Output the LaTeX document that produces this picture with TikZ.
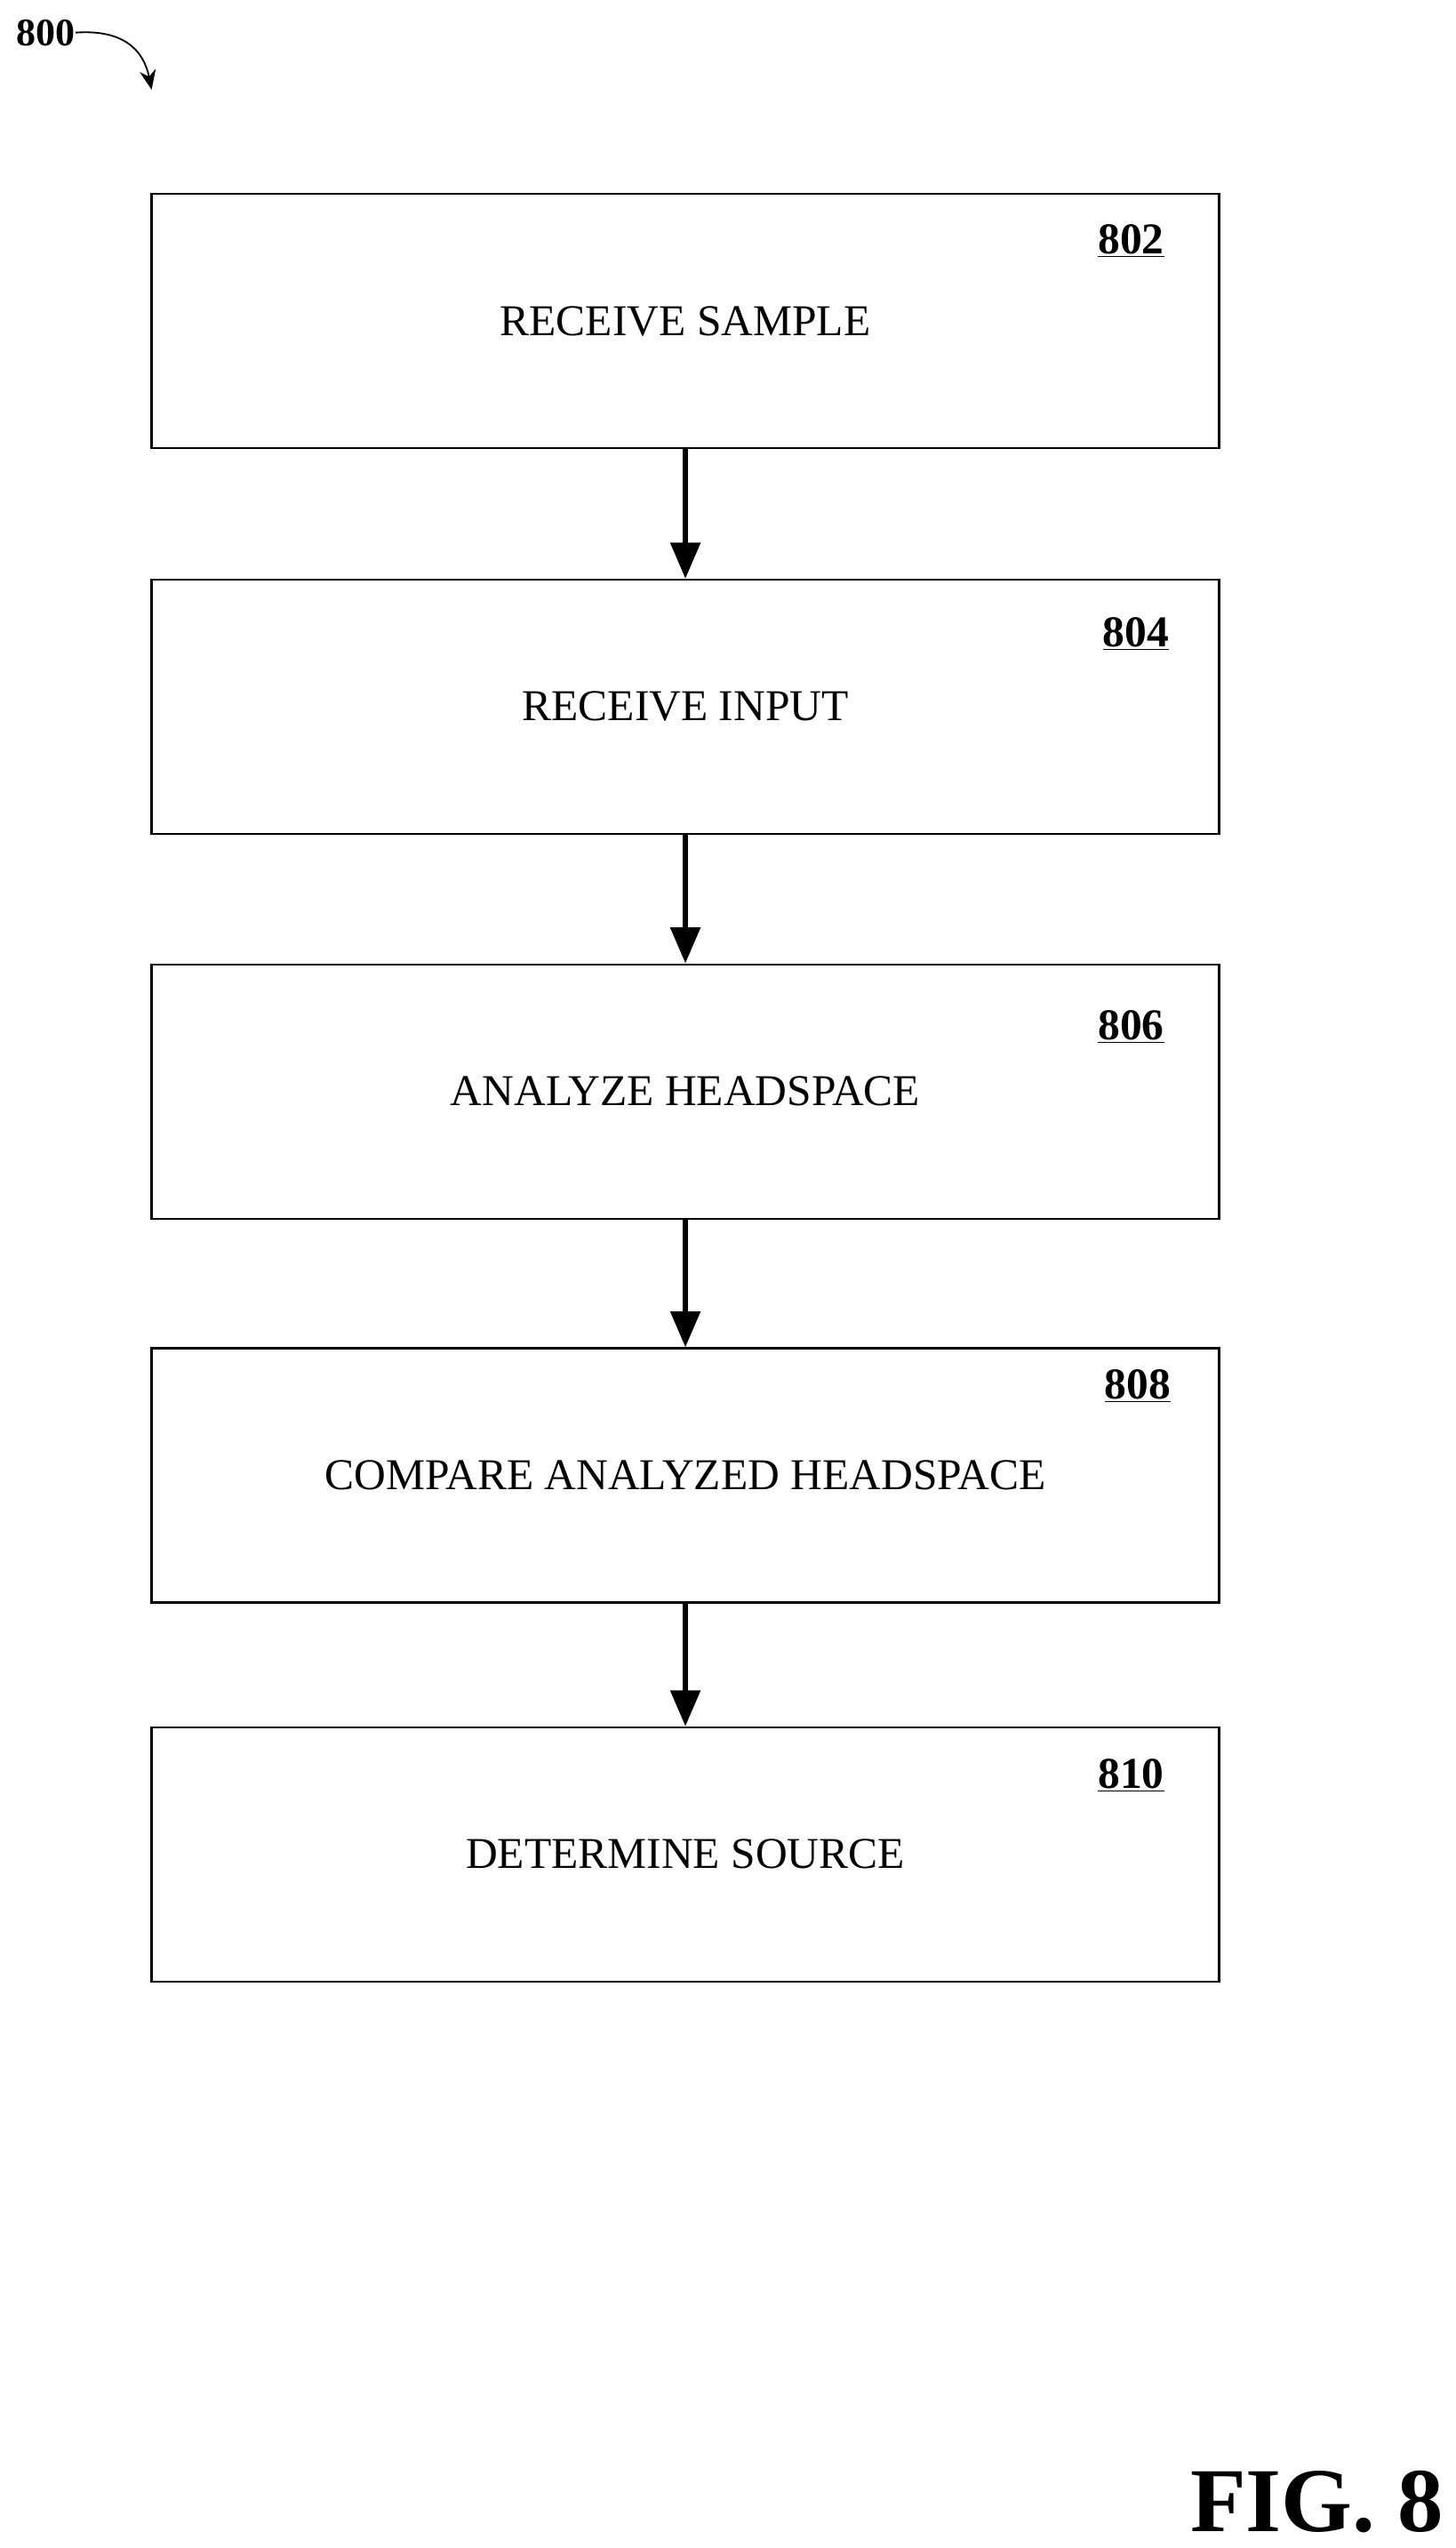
\documentclass[tikz,border=0pt]{standalone}
\usepackage{fontspec}
\setmainfont{Liberation Serif}
\usetikzlibrary{arrows.meta}
\begin{document}
\begin{tikzpicture}[x=1pt,y=-1pt,
 box/.style={draw,line width=1.2pt,minimum width=655pt,minimum height=156pt,inner sep=0pt,font=\fontsize{27}{31}\selectfont},
 lab/.style={font=\fontsize{27}{31}\selectfont\bfseries},
 arr/.style={line width=3pt,-{Triangle[length=22pt,width=18pt]}}]
\useasboundingbox (0,0) rectangle (893,1563);
\node[box] (b1) at (420.5,197) {RECEIVE SAMPLE};
\node[box] (b2) at (420.5,433.5) {RECEIVE INPUT};
\node[box] (b3) at (420.5,669.5) {ANALYZE HEADSPACE};
\node[box] (b4) at (420.5,905) {COMPARE ANALYZED HEADSPACE};
\node[box] (b5) at (420.5,1137.5) {DETERMINE SOURCE};
\node[lab] (l1) at (694,148) {\underline{802}};
\node[lab] (l2) at (697,389) {\underline{804}};
\node[lab] (l3) at (694,630) {\underline{806}};
\node[lab] (l4) at (698,850) {\underline{808}};
\node[lab] (l5) at (694,1089) {\underline{810}};
\draw[arr] (b1.south) -- (b2.north);
\draw[arr] (b2.south) -- (b3.north);
\draw[arr] (b3.south) -- (b4.north);
\draw[arr] (b4.south) -- (b5.north);
\node[lab,font=\fontsize{24}{28}\selectfont\bfseries,anchor=west,inner sep=0pt] (n800) at (10,20) {800};
\coordinate (t800) at (93,55);
\draw[line width=1pt,-{Stealth[length=12pt,width=10pt]}] (n800.east) .. controls (75,18) and (88,30) .. (t800);
\node[font=\fontsize{56}{60}\selectfont\bfseries,anchor=base east,inner sep=0pt] (fig) at (886,1553) {FIG. 8};
\end{tikzpicture}
\end{document}
